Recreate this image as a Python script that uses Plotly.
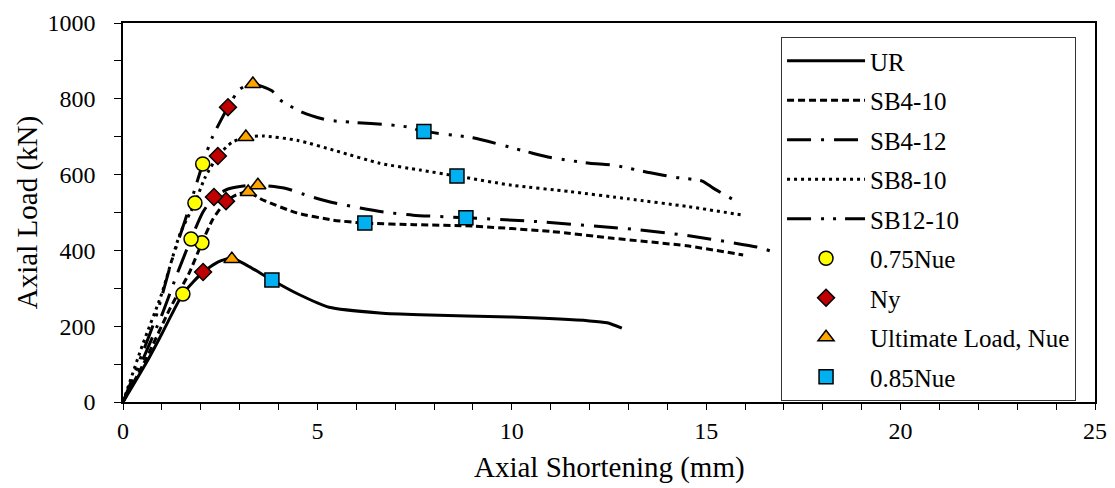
import plotly.graph_objects as go

# ---- data (mm, kN) ----
ur_x = [0, 0.64, 1.0, 1.54, 2.06, 2.45, 2.8, 3.2, 3.83, 4.5, 5.3, 6.6, 7.64, 10.0, 12.0, 12.45, 12.83]
ur_y = [0, 111, 180, 285, 343, 370, 380, 360, 322, 285, 250, 235, 230, 224, 214, 209, 195]

sb410_x = [0, 0.6, 1.2, 1.7, 2.03, 2.3, 2.65, 2.95, 3.22, 3.6, 4.47, 5.4, 6.22, 7.5, 9.0, 11.0, 12.6, 14.5, 15.95]
sb410_y = [0, 115, 245, 340, 420, 480, 530, 548, 554, 533, 499, 480, 472, 468, 464, 450, 432, 412, 388]

sb412_x = [0, 0.5, 1.0, 1.4, 1.75, 2.05, 2.34, 2.7, 3.1, 3.47, 4.17, 4.8, 5.45, 6.1, 6.74, 7.46, 8.82, 10.5, 13.1, 14.45, 16.3, 16.67]
sb412_y = [0, 110, 230, 340, 430, 500, 541, 562, 570, 572, 564, 543, 525, 512, 501, 493, 486, 477, 456, 440, 409, 398]

sb810_x = [0, 0.5, 1.0, 1.47, 1.85, 2.1, 2.44, 2.8, 3.16, 3.6, 4.5, 5.5, 6.6, 7.64, 8.59, 10.0, 11.5, 13.0, 14.5, 15.95]
sb810_y = [0, 150, 287, 445, 525, 590, 649, 685, 699, 702, 690, 662, 630, 612, 596, 572, 555, 536, 516, 493]

sb1210_x = [0, 0.82, 1.26, 1.6, 2.05, 2.29, 2.7, 3.0, 3.34, 3.83, 4.04, 4.6, 5.25, 5.9, 6.87, 7.3, 7.74, 9.0, 10.4, 11.0, 12.0, 12.6, 13.6, 14.2, 14.9, 15.17, 15.66]
sb1210_y = [0, 216, 375, 480, 628, 697, 778, 825, 839, 821, 797, 765, 744, 738, 731, 726, 714, 697, 660, 645, 630, 625, 604, 593, 583, 565, 536]

# marker points: UR, SB4-10, SB4-12, SB8-10, SB12-10
n075_x = [1.54, 2.03, 1.75, 1.85, 2.05]
n075_y = [285, 420, 430, 525, 628]
ny_x = [2.06, 2.65, 2.34, 2.44, 2.7]
ny_y = [343, 530, 541, 649, 778]
nue_x = [2.8, 3.22, 3.47, 3.16, 3.34]
nue_y = [377, 554, 572, 699, 839]
n085_x = [3.83, 6.22, 8.82, 8.59, 7.74]
n085_y = [322, 472, 486, 596, 714]

FONT = "Times New Roman, Liberation Serif, DejaVu Serif, serif"

fig = go.Figure()

lines = [
    ("UR", ur_x, ur_y, "solid"),
    ("SB4-10", sb410_x, sb410_y, "7px,4px"),
    ("SB4-12", sb412_x, sb412_y, "24px,10px,3px,10px"),
    ("SB8-10", sb810_x, sb810_y, "3px,4px"),
    ("SB12-10", sb1210_x, sb1210_y, "24px,10px,3px,9px,3px,9px"),
]
for name, xs, ys, dash in lines:
    fig.add_trace(go.Scatter(
        x=xs, y=ys, name=name, mode="lines", legendgroup=name,
        line=dict(color="black", width=3, dash=dash, shape="spline", smoothing=0.6),
    ))

markers = [
    ("0.75Nue", n075_x, n075_y, "circle", "#FFFF00", 14),
    ("Ny", ny_x, ny_y, "diamond", "#C00000", 13),
    ("Ultimate Load, Nue", nue_x, nue_y, "triangle-up", "#FFA500", 14),
    ("0.85Nue", n085_x, n085_y, "square", "#00B0F0", 14),
]
for name, xs, ys, sym, col, sz in markers:
    fig.add_trace(go.Scatter(
        x=xs, y=ys, name=name, mode="markers", legendgroup=name,
        marker=dict(symbol=sym, color=col, size=sz, line=dict(color="black", width=1.5)),
    ))

fig.update_layout(
    width=1115, height=488,
    margin=dict(l=123, r=20, t=23, b=86),
    paper_bgcolor="white", plot_bgcolor="white",
    font=dict(family=FONT, size=24, color="black"),
    showlegend=True,
    legend=dict(
        x=0.677, y=0.963, xanchor="left", yanchor="top",
        bordercolor="#333", borderwidth=1, bgcolor="white",
        font=dict(family=FONT, size=25, color="black"),
        tracegroupgap=4, itemwidth=78,
    ),
    annotations=[dict(
        text="Axial Shortening (mm)", xref="paper", yref="paper",
        x=0.5, y=-0.125, xanchor="center", yanchor="top", showarrow=False,
        font=dict(family=FONT, size=29, color="black"),
    )],
)
fig.update_xaxes(
    range=[0, 25], dtick=5, tick0=0, automargin=False,
    showgrid=False, zeroline=False,
    showline=True, linecolor="black", linewidth=1.5, mirror=True,
    ticks="outside", ticklen=6, tickwidth=1, tickcolor="black",
    tickfont=dict(family=FONT, size=24),
    minor=dict(dtick=1, ticks="outside", ticklen=6, tickcolor="black", showgrid=False),
)
fig.update_yaxes(
    range=[0, 1000], dtick=200, tick0=0, automargin=False,
    showgrid=False, zeroline=False,
    showline=True, linecolor="black", linewidth=1.5, mirror=True,
    ticks="outside", ticklen=7, tickwidth=1, tickcolor="black",
    ticklabelstandoff=14,
    tickfont=dict(family=FONT, size=24),
    minor=dict(dtick=100, ticks="outside", ticklen=7, tickcolor="black", showgrid=False),
    title=dict(text="Axial Load (kN)", font=dict(family=FONT, size=29), standoff=1),
)

fig.write_html("out.html")
